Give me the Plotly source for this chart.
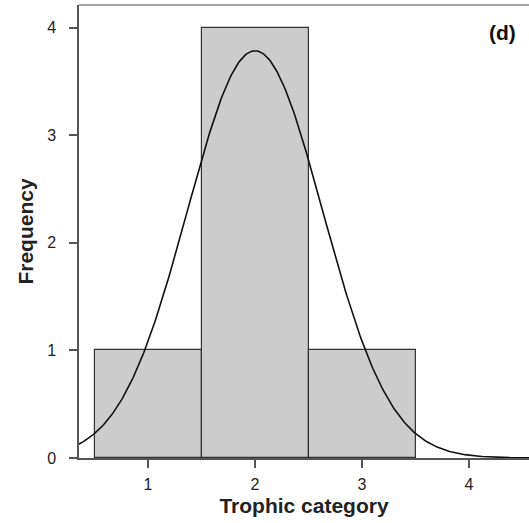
import numpy as np
import plotly.graph_objects as go

# Data
categories = [1, 2, 3]
frequencies = [1, 4, 1]
x_ticks = [1, 2, 3, 4]
y_ticks = [0, 1, 2, 3, 4]
panel_label = "(d)"

# Fitted normal curve from the histogram data
vals = np.repeat(categories, frequencies)
mu = vals.mean()
sd = vals.std(ddof=1)
n = len(vals)
bin_width = 1.0
xc = np.linspace(0.3, 4.7, 400)
yc = n * bin_width * np.exp(-0.5 * ((xc - mu) / sd) ** 2) / (sd * np.sqrt(2 * np.pi))

fig = go.Figure()
fig.add_trace(go.Bar(
    x=categories, y=frequencies, width=1.0,
    marker=dict(color="#cccccc", line=dict(color="#333333", width=1.2)),
    showlegend=False, hoverinfo="skip"))
fig.add_trace(go.Scatter(
    x=xc, y=yc, mode="lines",
    line=dict(color="#111111", width=1.6),
    showlegend=False, hoverinfo="skip"))

fig.update_layout(
    width=529, height=523,
    margin=dict(l=79, r=0, t=5, b=65),
    plot_bgcolor="white", paper_bgcolor="white",
    bargap=0,
    font=dict(family="Liberation Sans, Arial, sans-serif", color="#222222"),
    xaxis=dict(
        range=[0.355, 4.56], tickvals=x_ticks, ticks="outside", ticklen=8,
        tickwidth=1.5, tickcolor="#555555",
        showline=True, linecolor="#555555", linewidth=1.5,
        showgrid=False, zeroline=False, ticklabelstandoff=3,
        tickfont=dict(size=16),
        title=dict(text="<b>Trophic category</b>", font=dict(size=21), standoff=6),
    ),
    yaxis=dict(
        range=[0, 4.21], tickvals=y_ticks, ticks="outside", ticklen=8,
        tickwidth=1.5, tickcolor="#555555",
        showline=True, linecolor="#555555", linewidth=1.5,
        showgrid=False, zeroline=False, ticklabelstandoff=10,
        tickfont=dict(size=16),
        title=dict(text="<b>Frequency</b>", font=dict(size=21), standoff=8),
    ),
    shapes=[dict(type="line", xref="paper", yref="paper", x0=0, x1=1, y0=1, y1=1,
                 line=dict(color="#888888", width=1.5))],
    annotations=[dict(text="<b>(d)</b>", xref="paper", yref="paper",
                      x=0.942, y=0.94, xanchor="center", yanchor="middle",
                      showarrow=False, font=dict(size=21, color="#111111"))],
)

fig.write_html("out.html")
